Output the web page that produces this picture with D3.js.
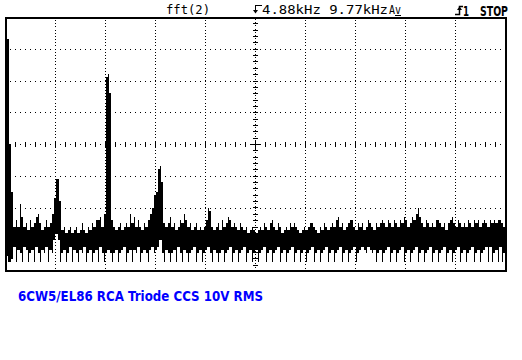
<!DOCTYPE html>
<html>
<head>
<meta charset="utf-8">
<script src="https://cdn.jsdelivr.net/npm/d3@7/dist/d3.min.js"></script>
<style>
  html, body { margin: 0; padding: 0; background: #fff; }
  svg { display: block; }
</style>
</head>
<body>
<div id="scope"></div>
<script>
// fft(2) screen, 8 div x 10 dB, span 9.77 kHz
var spanKHz = 9.77;
var centerKHz = 4.88;
var dbRange = [-80, 0];
var headerLabels = ["fft(2)", "4.88kHz 9.77kHz"];
var caption = "6CW5/EL86 RCA Triode CCS 10V RMS";

// upper edge of trace per bin (dB), 250 bins across the span
var traceHi = [
   0,  -7, -40, -55, -66, -64, -66, -59, -63, -66, -65, -67, -64, -66, -65, -63, -62, -65, -67, -66, -64, -66, -65, -62, -57,
 -51, -51, -58, -67, -66, -68, -67, -66, -68, -67, -66, -68, -67, -65, -67, -68, -66, -67, -65, -66, -64, -64, -63, -66, -62,
 -19, -18, -24, -64, -66, -67, -66, -65, -67, -66, -65, -66, -62, -65, -63, -66, -64, -66, -67, -65, -66, -64, -62, -60, -56,
 -55, -48, -47, -52, -65, -66, -65, -63, -66, -65, -67, -66, -64, -65, -62, -64, -66, -65, -67, -66, -65, -67, -66, -67, -66,
 -64, -60, -61, -66, -67, -66, -65, -67, -64, -66, -65, -63, -64, -66, -65, -66, -67, -65, -66, -67, -66, -68, -67, -66, -67,
 -68, -67, -66, -67, -65, -66, -67, -65, -64, -66, -67, -65, -66, -68, -67, -66, -67, -65, -66, -65, -66, -67, -68, -67, -66,
 -67, -66, -65, -65, -66, -67, -68, -66, -67, -65, -66, -67, -66, -65, -66, -64, -63, -66, -65, -67, -66, -65, -64, -64, -66,
 -67, -65, -66, -65, -67, -66, -64, -65, -66, -67, -65, -66, -65, -64, -65, -66, -64, -65, -66, -64, -65, -66, -64, -65, -63,
 -64, -66, -65, -63, -64, -62, -60, -63, -65, -66, -64, -65, -66, -65, -66, -64, -64, -65, -66, -65, -67, -65, -64, -63, -65,
 -66, -64, -65, -66, -65, -66, -64, -65, -66, -64, -65, -64, -66, -65, -64, -65, -66, -64, -65, -64, -65, -64, -64, -65, -66
];

// lower edge of trace per bin (dB)
var traceLo = [
 -75, -77, -77, -76, -72, -77, -73, -74, -77, -72, -73, -77, -74, -73, -77, -72, -74, -77, -73, -74, -72, -77, -73, -74, -70,
 -68, -70, -77, -74, -73, -77, -74, -72, -77, -73, -74, -77, -73, -74, -72, -77, -74, -73, -77, -74, -73, -77, -72, -74, -77,
 -74, -73, -74, -77, -74, -73, -77, -74, -73, -72, -77, -74, -73, -77, -73, -74, -72, -77, -74, -73, -74, -77, -73, -72, -74,
 -73, -72, -70, -74, -77, -73, -74, -77, -74, -73, -77, -72, -74, -77, -73, -74, -77, -74, -73, -72, -77, -74, -73, -77, -74,
 -73, -72, -74, -77, -73, -74, -77, -74, -73, -77, -74, -73, -72, -77, -74, -73, -77, -74, -73, -72, -77, -74, -73, -77, -74,
 -73, -77, -74, -73, -72, -77, -74, -73, -77, -74, -73, -72, -77, -74, -73, -77, -74, -73, -72, -77, -74, -73, -77, -74, -73,
 -77, -74, -73, -72, -77, -74, -73, -77, -74, -73, -72, -77, -74, -73, -77, -74, -73, -72, -77, -74, -73, -77, -74, -73, -72,
 -77, -74, -73, -72, -73, -74, -72, -73, -74, -73, -77, -74, -73, -77, -74, -73, -72, -77, -74, -73, -77, -74, -73, -72, -77,
 -74, -73, -77, -74, -73, -72, -77, -74, -73, -77, -74, -73, -72, -77, -74, -73, -77, -74, -73, -72, -77, -74, -73, -77, -74,
 -73, -72, -77, -74, -73, -77, -74, -73, -72, -77, -74, -73, -77, -74, -73, -72, -77, -72, -77, -74, -73, -77, -72, -77, -74
];

var W = 522, H = 360;
var box = {left: 5, right: 505, top: 17, bottom: 271};

var svg = d3.select("#scope").append("svg")
    .attr("width", W)
    .attr("height", H)
    .attr("shape-rendering", "crispEdges");

var x = d3.scaleLinear().domain([0, spanKHz]).range([box.left, box.right]);
var y = d3.scaleLinear().domain(dbRange).range([box.bottom, box.top]);

var divX = d3.range(0, 11).map(function(i) { return i * spanKHz / 10; });
var divY = d3.range(dbRange[0], dbRange[1] + 1, 10);

function dot(g, px, py, w, h) {
  g.append("rect").attr("x", Math.round(px)).attr("y", Math.round(py))
    .attr("width", w || 1).attr("height", h || 1);
}

// dotted graticule
var grid = svg.append("g").attr("fill", "#000");
divX.slice(1, -1).forEach(function(f) {
  if (Math.abs(f - centerKHz) < 0.01) return;
  d3.range(box.top + 3, box.bottom - 1, 31.75 / 10).forEach(function(py) { dot(grid, x(f), py); });
});
divY.slice(1, -1).forEach(function(d) {
  if (d === -40) return;
  d3.range(box.left + 5, box.right, 5).forEach(function(px) { dot(grid, px, y(d)); });
});

// centre cross with minor ticks
var cx = Math.round(x(centerKHz + 0.005)), cy = Math.round(y(-40));
d3.range(box.top + 2, box.bottom, 31.75 / 10).forEach(function(py) { dot(grid, cx, py); });
d3.range(box.top + 31.75 / 5, box.bottom - 2, 31.75 / 5).forEach(function(py) { dot(grid, cx - 2, py, 5, 1); });
d3.range(box.left + 5, box.right, 5).forEach(function(px, i) {
  if (i % 2 === 1) dot(grid, px, cy - 2, 1, 5);
  else dot(grid, px, cy);
});
dot(grid, cx - 4, cy, 9, 1);
dot(grid, cx, cy - 4, 1, 9);

// trace: one column per bin (full excursion) plus a joining column (overlap of neighbours)
var n = traceHi.length;
var bins = traceHi.map(function(hi, i) {
  return {f: (i + 0.5) * spanKHz / n, hi: Math.min(hi, dbRange[1]), lo: traceLo[i]};
});
var joins = bins.slice(0, -1).map(function(b, i) {
  var nb = bins[i + 1];
  return {px: Math.round(x(b.f)) + 1, hi: Math.min(b.hi, nb.hi), lo: Math.max(b.lo, nb.lo)};
});

var trace = svg.append("g").attr("fill", "#000");
trace.selectAll("rect.bin").data(bins).join("rect")
    .attr("class", "bin")
    .attr("x", function(d) { return Math.round(x(d.f)); })
    .attr("y", function(d) { return Math.round(y(d.hi)); })
    .attr("width", 1)
    .attr("height", function(d) { return Math.round(y(d.lo)) - Math.round(y(d.hi)) + 1; });
trace.selectAll("rect.join").data(joins).join("rect")
    .attr("class", "join")
    .attr("x", function(d) { return d.px; })
    .attr("y", function(d) { return Math.round(y(d.hi)); })
    .attr("width", 1)
    .attr("height", function(d) { return Math.max(0, Math.round(y(d.lo)) - Math.round(y(d.hi)) + 1); });

// frame
var frame = svg.append("g").attr("fill", "#000");
dot(frame, box.left, box.top, box.right - box.left + 2, 2);
dot(frame, box.left, box.bottom - 1, box.right - box.left + 2, 2);
dot(frame, box.left, box.top, 2, box.bottom - box.top + 1);
dot(frame, box.right, box.top, 2, box.bottom - box.top + 1);

// header
var head = svg.append("g")
    .attr("font-family", "'DejaVu Sans Mono', monospace")
    .attr("font-size", 12)
    .attr("fill", "#000")
    .attr("shape-rendering", "auto");
head.append("text").attr("x", 166).attr("y", 14)
    .attr("textLength", 44).attr("lengthAdjust", "spacingAndGlyphs").text(headerLabels[0]);
head.append("text").attr("x", 262).attr("y", 14)
    .attr("textLength", 126).attr("lengthAdjust", "spacingAndGlyphs").text(headerLabels[1]);
head.append("text").attr("x", 389).attr("y", 14)
    .attr("textLength", 12).attr("lengthAdjust", "spacingAndGlyphs").text("Av");
dot(head, 395, 15, 6, 1);
// centre-frequency marker
dot(head, 255, 5, 1, 6);
dot(head, 255, 5, 7, 1);
head.append("path").attr("d", "M253,10 L258,10 L255.5,13.5 Z");

// trigger / run status
head.append("path").attr("d", "M455,14.5 L459.5,14.5 L459.5,6.5 L463,6.5")
    .attr("fill", "none").attr("stroke", "#000").attr("stroke-width", 1.5);
head.append("path").attr("d", "M457,10 L462,10 L459.5,6.5 Z");
head.append("text").attr("x", 463).attr("y", 15.5)
    .attr("font-family", "'DejaVu Sans', sans-serif").attr("font-weight", "bold").attr("font-size", 14)
    .attr("textLength", 6).attr("lengthAdjust", "spacingAndGlyphs")
    .text("1");
head.append("text").attr("x", 480).attr("y", 15.5)
    .attr("font-family", "'DejaVu Sans', sans-serif").attr("font-weight", "bold").attr("font-size", 14.5)
    .attr("textLength", 28).attr("lengthAdjust", "spacingAndGlyphs")
    .text("STOP");

// caption
svg.append("text")
    .attr("x", 18).attr("y", 300.5)
    .attr("font-family", "'DejaVu Sans', sans-serif")
    .attr("font-weight", "bold")
    .attr("font-size", 13.5)
    .attr("fill", "#0000ff")
    .attr("shape-rendering", "auto")
    .attr("textLength", 245).attr("lengthAdjust", "spacingAndGlyphs")
    .text(caption);
</script>
</body>
</html>
